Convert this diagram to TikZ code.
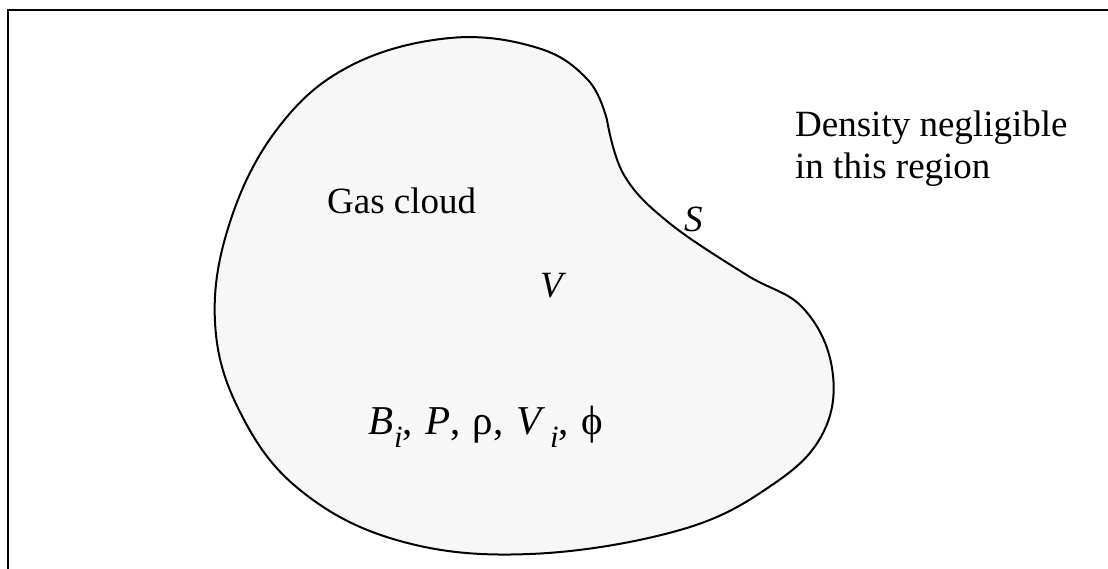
\documentclass[tikz,border=0pt]{standalone}
\usepackage{fontspec}
\setmainfont{Liberation Serif}
\newcommand{\mysub}[1]{\raisebox{-0.33em}{\fontsize{31}{31}\selectfont\textit{#1}}}
\newcommand{\gap}{\hspace{0.3em}}
\begin{document}
\begin{tikzpicture}[x=1pt,y=-1pt,
  lbl/.style={inner sep=0pt,anchor=base west,font=\fontsize{37}{45}\selectfont},
  cloud/.style={draw=black,line width=2pt,fill={rgb,255:red,247;green,247;blue,247},line join=round}]
\useasboundingbox (0,0) rectangle (1108,568);
\draw[line width=2.6pt] (8,570) -- (8,10) -- (1110,10);
\filldraw[cloud] plot[smooth,tension=0.65] coordinates {
 (607,120) (624,175) (668,222) (745,274) (803,308) (832,368)
 (823,433) (772,485) (680,530) (530,554)
 (400,541) (300,490) (240,412) (215,322) (230,222) (278,128)
 (350,66) (450,38) (538,48) (588,80) (607,120)} -- cycle;
\node[lbl] (gas) at (327,213) {Gas cloud};
\node[lbl] (dens1) at (795,136) {Density negligible};
\node[lbl] (dens2) at (795,178) {in this region};
\node[lbl] (surf) at (684,231) {\textit{S}};
\node[lbl] (vol) at (540,297) {\textit{V}};
\node[lbl,font=\fontsize{41}{45}\selectfont] (vars) at (368,434) {\textit{B}\kern1pt\mysub{i},\gap\textit{P},\gap ρ,\gap\textit{V}\kern5pt\mysub{i},\gap ϕ};
\end{tikzpicture}
\end{document}
